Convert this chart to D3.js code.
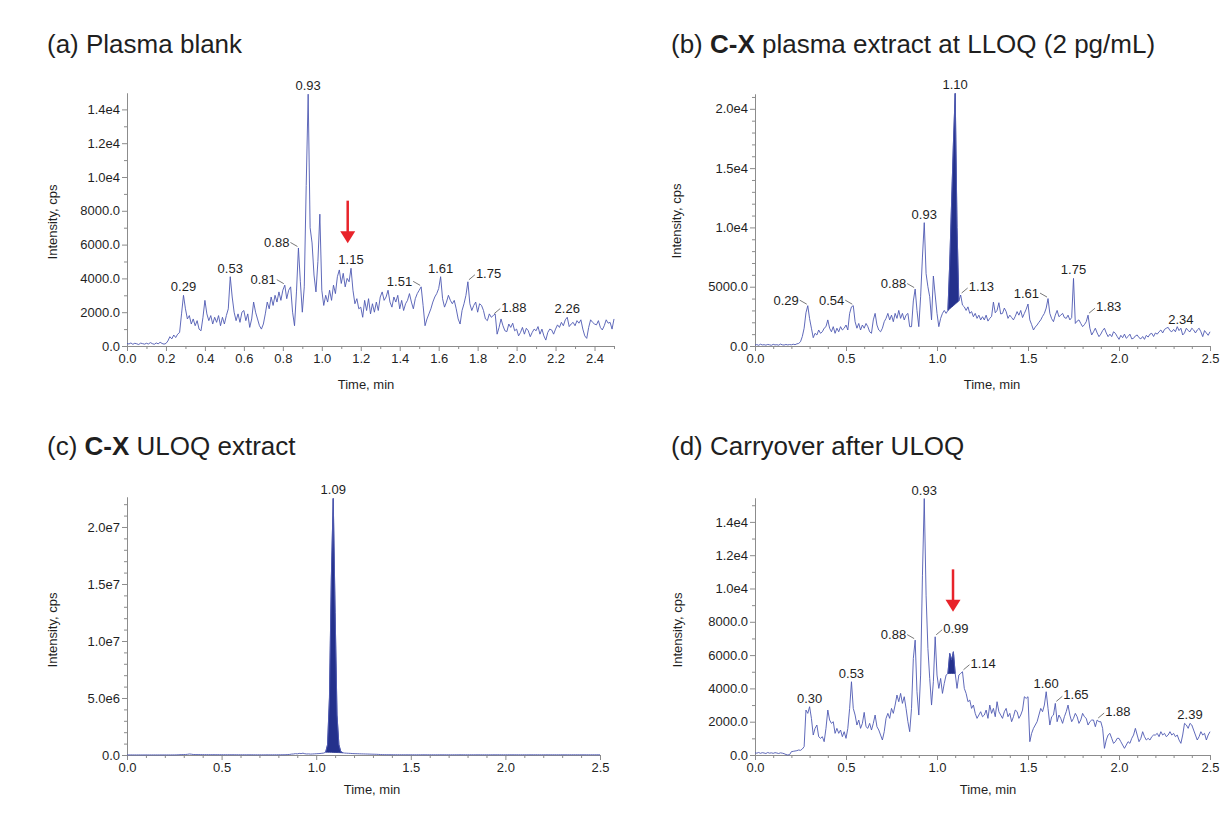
<!DOCTYPE html>
<html>
<head>
<meta charset="utf-8">
<script src="https://cdn.jsdelivr.net/npm/d3@7"></script>
<style>
  body { margin: 0; background: #fff; }
  svg { display: block; font-family: "Liberation Sans", Arial, sans-serif; }
</style>
</head>
<body>
<svg id="chart" width="1221" height="840"></svg>
<script>
// sampling step of every trace, in minutes
const STEP = 0.01;

// (a) plasma blank, cps, one value per 0.01 min from 0.00 to 2.50
const blankIntensity = [
  150, 120, 180, 100, 160, 130, 90, 170, 140, 110,
  160, 120, 200, 140, 100, 180, 130, 220, 150, 110,
  150, 300, 550, 420, 650, 500, 700, 800, 1900, 3000,
  2200, 1600, 1800, 1300, 1600, 1200, 1500, 1000, 900, 1700,
  2700, 1900, 1500, 1800, 1300, 1700, 1400, 1800, 1200, 1700,
  1300, 1800, 2200, 4100, 2900, 2000, 1500, 1900, 1400, 2000,
  2100, 1500, 1900, 1100, 1600, 2600, 2000, 1600, 1200, 1000,
  1300, 1900, 2600, 2200, 2900, 2400, 3000, 2600, 3200, 2700,
  3300, 3600, 2800, 3300, 3500, 2000, 1200, 3200, 5800, 3800,
  2000, 3500, 9500, 14900, 7000, 6100, 4200, 3200, 5000, 7800,
  3300, 2400, 3000, 2600, 3300, 2700, 3600, 3100, 4100, 4500,
  3700, 4300, 3500, 4000, 3800, 4600, 3300, 2500, 2800, 2200,
  2300, 1700, 2700, 2100, 2800, 1900, 2500, 2000, 2600, 2100,
  2900, 3200, 2700, 2900, 3300, 2600, 2300, 2900, 2600, 3000,
  2200, 2700, 2100, 2500, 2700, 3100, 2600, 2200, 2800, 3100,
  3300, 3500, 2400, 1200, 1600, 1900, 2200, 2600, 2900, 3100,
  3400, 4100, 2800, 2300, 2600, 3000, 2700, 2500, 2700, 2200,
  1600, 1300, 2100, 2500, 3000, 3800, 2500, 2100, 2400, 2600,
  2000, 2500, 2400, 2100, 1600, 1500, 1900, 1700, 1800, 1900,
  700, 1100, 1600, 1200, 900, 850, 1300, 1100, 1350, 900,
  1000, 600, 800, 1100, 700, 1050, 900, 550, 800, 1000,
  900, 1150, 700, 1000, 600, 350, 800, 1000, 950, 700,
  1000, 1250, 1100, 1400, 1200, 1550, 1700, 1150, 1300, 1400,
  1200, 1500, 1350, 1550, 1000, 600, 450, 1100, 1550, 1400,
  1300, 1250, 1500, 1100, 950, 1200, 1550, 1350, 1400, 1000,
  1600
];

// (b) C-X plasma extract at LLOQ
const lloqIntensity = [
  80, 120, 60, 150, 90, 110, 70, 130, 100, 60,
  140, 90, 110, 70, 160, 100, 80, 130, 90, 120,
  100, 150, 110, 180, 220, 360, 800, 1500, 2800, 3400,
  2300, 1500, 700, 1070, 930, 1350, 1070, 1200, 1500, 1630,
  2200, 1500, 1200, 1630, 1070, 1500, 1200, 1630, 1350, 1500,
  1770, 1350, 2750, 3300, 3400, 2050, 1500, 1900, 1350, 1770,
  1500, 1900, 1630, 1200, 1070, 2200, 2750, 1770, 1350, 1200,
  1500, 2050, 2330, 2750, 2200, 2600, 2050, 2750, 2330, 3000,
  2330, 2750, 2200, 2600, 2750, 1630, 1630, 3800, 4800, 3000,
  1630, 4150, 7500, 10400, 6100, 5000, 4150, 2200, 5900, 4300,
  2750, 1630, 2330, 2750, 3000, 2750, 3000, 7000, 12000, 17000,
  21300, 10000, 3800, 4300, 3450, 3300, 3000, 3300, 2750, 2900,
  2470, 2750, 2330, 2600, 2200, 2470, 2200, 2600, 2100, 2330,
  2500, 3700, 2800, 3000, 3650, 2700, 2750, 3200, 2900, 2330,
  2600, 2400, 2200, 2500, 2900, 2600, 3000, 2400, 2750, 3100,
  3540, 2200, 1800, 1350, 1600, 1770, 2000, 2200, 2500, 2750,
  3200, 4000, 2750, 2300, 2050, 2600, 3000, 2470, 2600, 2750,
  2400, 2330, 2600, 2200, 2400, 5700, 1900, 2100, 2200, 1900,
  1630, 1800, 2050, 2600, 1500, 930, 1200, 1500, 1100, 790,
  1000, 1300, 1500, 1100, 790, 1000, 790, 1200, 1070, 800,
  560, 900, 700, 1000, 650, 800, 1000, 600, 650, 850,
  930, 700, 600, 800, 560, 900, 750, 1000, 1070, 800,
  1100, 1000, 1200, 1350, 1100, 1400, 1500, 1570, 1300, 1200,
  1400, 1200, 1630, 1300, 1500, 930, 1100, 1500, 1300, 1200,
  1500, 1350, 1100, 1350, 1500, 1200, 790, 1300, 1100, 900,
  1200
];

// (c) C-X ULOQ extract
const uloqIntensity = [
  8000, 6000, 9000, 7000, 8000, 6000, 9000, 7000, 8000, 6000,
  9000, 7000, 8000, 6000, 9000, 7000, 8000, 6000, 9000, 7000,
  9000, 7000, 10000, 8000, 12000, 9000, 14000, 20000, 30000, 35000,
  40000, 45000, 60000, 90000, 70000, 45000, 40000, 35000, 38000, 33000,
  35000, 30000, 33000, 28000, 31000, 27000, 30000, 26000, 29000, 25000,
  28000, 24000, 27000, 23000, 26000, 22000, 25000, 21000, 24000, 20000,
  23000, 20000, 22000, 19000, 21000, 18000, 20000, 17000, 19000, 16000,
  18000, 15000, 17000, 15000, 18000, 16000, 19000, 17000, 20000, 18000,
  22000, 20000, 25000, 23000, 28000, 40000, 50000, 80000, 90000, 120000,
  100000, 140000, 120000, 160000, 110000, 90000, 100000, 80000, 90000, 100000,
  110000, 120000, 130000, 150000, 170000, 250000, 900000, 5000000, 15500000, 22500000,
  12500000, 3500000, 900000, 300000, 200000, 170000, 160000, 150000, 140000, 130000,
  120000, 115000, 110000, 105000, 100000, 95000, 90000, 85000, 80000, 75000,
  70000, 65000, 60000, 50000, 40000, 35000, 30000, 28000, 26000, 25000,
  24000, 22000, 23000, 21000, 22000, 20000, 21000, 19000, 20000, 18000,
  21000, 19000, 20000, 18000, 21000, 19000, 22000, 20000, 21000, 19000,
  20000, 18000, 21000, 19000, 20000, 18000, 21000, 19000, 20000, 18000,
  21000, 19000, 20000, 18000, 21000, 19000, 22000, 20000, 21000, 19000,
  20000, 18000, 21000, 19000, 20000, 18000, 21000, 19000, 20000, 18000,
  21000, 19000, 20000, 18000, 21000, 19000, 22000, 20000, 21000, 19000,
  20000, 18000, 21000, 19000, 20000, 18000, 21000, 19000, 20000, 18000,
  21000, 19000, 20000, 18000, 21000, 19000, 22000, 20000, 21000, 19000,
  20000, 18000, 21000, 19000, 20000, 18000, 21000, 19000, 20000, 18000,
  21000, 19000, 20000, 18000, 21000, 19000, 22000, 20000, 21000, 19000,
  20000, 18000, 21000, 19000, 20000, 18000, 21000, 19000, 20000, 18000,
  20000
];

// (d) carryover blank injected after ULOQ
const carryIntensity = [
  130, 110, 150, 100, 140, 120, 90, 150, 110, 130,
  100, 140, 120, 90, 130, 110, 80, 30, 0, 20,
  200, 220, 240, 260, 300, 280, 360, 500, 2700, 2500,
  2900, 2200, 1200, 1600, 1800, 1100, 1000, 1100, 800, 1600,
  2700, 2100, 1900, 2000, 1300, 1600, 1300, 1500, 1100, 1400,
  1000, 1600, 2800, 4400, 2800, 2400, 1800, 2100, 1600, 1900,
  2560, 1700, 1600, 1900, 1500, 1900, 2400, 1700, 1500, 1200,
  900, 1400, 2200, 2500, 2200, 2800, 2500, 3000, 3600, 3200,
  3700, 3100, 3500, 2800, 2000, 1400, 2800, 5800, 6900, 3800,
  2400, 4800, 10800, 15400, 9600, 6400, 4600, 3000, 4400, 7100,
  4800, 4000, 4600, 3700, 4300, 4800, 4900, 6100, 5700, 6200,
  4900, 4000, 4800, 4900, 5000, 4000, 3700, 3200, 3300, 2800,
  3000, 2500, 2200, 2400, 2600, 2300, 2400, 2700, 2200, 3000,
  2500, 2800, 2300, 3200, 2600, 2400, 2200, 2600, 2800, 2300,
  2500, 2000, 2300, 2700, 2600, 2200, 2400, 2700, 3500, 3400,
  3500, 800, 1300, 1600, 1800, 2000, 2400, 2800, 2600, 3000,
  3800, 2800, 1800, 2300, 2400, 3100, 2000, 2400, 2200, 1900,
  2300, 2600, 3000, 2400, 2000, 2200, 2500, 2300, 1900, 2100,
  2500, 2300, 2200, 1800, 2000, 2100, 2100, 1700, 2100, 2000,
  2000, 1600, 400, 900, 1200, 1300, 1000, 700, 800, 1000,
  1000, 800, 600, 400, 600, 800, 700, 1000, 1200, 1600,
  1200, 800, 1000, 1400, 1100, 900, 1000, 900, 1100, 1200,
  1200, 1300, 1100, 1400, 1200, 1300, 1100, 1200, 1400, 1200,
  1300, 1100, 1200, 900, 700, 1200, 1900, 1800, 1600, 1900,
  1800, 1500, 1200, 900, 1100, 1400, 1200, 1300, 900, 1200,
  1400
];

// labelled peaks: retention time text and where the label sits
const blankPeaks = [["0.29", "top"], ["0.53", "top"], ["0.81", "left"], ["0.88", "left"],
  ["0.93", "top"], ["1.15", "top"], ["1.51", "left"], ["1.61", "top"], ["1.75", "right"],
  ["1.88", "right"], ["2.26", "top"]];
const lloqPeaks = [["0.29", "left"], ["0.54", "left"], ["0.88", "left"], ["0.93", "top"],
  ["1.10", "top"], ["1.13", "right"], ["1.61", "left"], ["1.75", "top"], ["1.83", "right"],
  ["2.34", "top"]];
const uloqPeaks = [["1.09", "top"]];
const carryPeaks = [["0.30", "top"], ["0.53", "top"], ["0.88", "left"], ["0.93", "top"],
  ["0.99", "right"], ["1.14", "right"], ["1.60", "top"], ["1.65", "right"], ["1.88", "right"],
  ["2.39", "top"]];

// integrated (shaded) windows, minutes
const lloqWindow = [1.06, 1.12];
const uloqWindow = [1.05, 1.14];
const carryWindow = [1.06, 1.10];

// red arrows: time, tail and tip intensity
const blankArrow = [1.133, 8600, 6080];
const carryArrow = [1.088, 11150, 8600];

// tick values
const xTicksFine = [0, 0.2, 0.4, 0.6, 0.8, 1.0, 1.2, 1.4, 1.6, 1.8, 2.0, 2.2, 2.4];
const xTicksHalf = [0, 0.5, 1.0, 1.5, 2.0, 2.5];
const yTicksBlank = [0, 2000, 4000, 6000, 8000, 10000, 12000, 14000];
const yTicksLloq = [0, 5000, 10000, 15000, 20000];
const yTicksUloq = [0, 5e6, 1e7, 1.5e7, 2e7];

const LINE = "#4e59b2";
const FILL = "#24318c";
const AXIS = "#8c8c8c";
const TEXT = "#1f1f1f";

const svg = d3.select("#chart");

const panels = [
  {
    title: [["(a) Plasma blank", false]], titleX: 47, titleY: 53,
    values: blankIntensity, peaks: blankPeaks, window: null, arrow: blankArrow,
    left: 127, right: 614, top: 93, bottom: 346, yMax: 14970,
    xTicks: xTicksFine, yTicks: yTicksBlank, yMinor: 1000,
    xLabel: [366, 389], yLabel: [57, 222],
  },
  {
    title: [["(b) ", false], ["C-X", true], [" plasma extract at LLOQ (2 pg/mL)", false]],
    titleX: 671, titleY: 53,
    values: lloqIntensity, peaks: lloqPeaks, window: lloqWindow, arrow: null,
    left: 755, right: 1210, top: 94, bottom: 346, yMax: 21250,
    xTicks: xTicksHalf, yTicks: yTicksLloq, yMinor: 1000,
    xLabel: [992, 389], yLabel: [681, 221],
  },
  {
    title: [["(c) ", false], ["C-X", true], [" ULOQ extract", false]],
    titleX: 47, titleY: 455,
    values: uloqIntensity, peaks: uloqPeaks, window: uloqWindow, arrow: null,
    left: 127, right: 600, top: 497, bottom: 755, yMax: 2.263e7,
    xTicks: xTicksHalf, yTicks: yTicksUloq, yMinor: 1e6,
    xLabel: [372, 794], yLabel: [57, 630],
  },
  {
    title: [["(d) Carryover after ULOQ", false]], titleX: 671, titleY: 455,
    values: carryIntensity, peaks: carryPeaks, window: carryWindow, arrow: carryArrow,
    left: 755, right: 1210, top: 498, bottom: 755, yMax: 15435,
    xTicks: xTicksHalf, yTicks: yTicksBlank, yMinor: 1000,
    xLabel: [988, 794], yLabel: [682, 630],
  },
];

function intensityFormat(v) {
  if (v < 10000) return v.toFixed(1);
  const e = Math.floor(Math.log10(v) + 1e-9);
  return (v / 10 ** e).toFixed(1) + "e" + e;
}

function styleAxis(g) {
  g.selectAll(".domain").attr("stroke", AXIS).attr("stroke-width", 1);
  g.selectAll(".tick line").attr("stroke", AXIS);
  g.selectAll(".tick text")
    .attr("fill", TEXT)
    .style("font-size", "13px")
    .style("font-family", '"Liberation Sans", Arial, sans-serif');
}

function drawPanel(p) {
  const x = d3.scaleLinear().domain([0, 2.5]).range([p.left, p.right]);
  const y = d3.scaleLinear().domain([0, p.yMax]).range([p.bottom, p.top]);
  const g = svg.append("g");

  // title
  const title = g.append("text")
    .attr("x", p.titleX)
    .attr("y", p.titleY)
    .attr("fill", TEXT)
    .style("font-size", "26px");
  p.title.forEach(([text, bold]) => {
    title.append("tspan").attr("font-weight", bold ? "bold" : "normal").text(text);
  });

  // axes
  const xMinor = d3.range(0, 2.5001, 0.1).filter((t) => !p.xTicks.some((m) => Math.abs(m - t) < 1e-6));
  const yMinor = d3.range(0, p.yMax, p.yMinor).filter((v) => !p.yTicks.includes(v));

  g.append("g")
    .attr("transform", `translate(0,${p.bottom})`)
    .call(d3.axisBottom(x).tickValues(xMinor).tickSize(3).tickSizeOuter(0).tickFormat(""))
    .call(styleAxis);
  g.append("g")
    .attr("transform", `translate(0,${p.bottom})`)
    .call(d3.axisBottom(x).tickValues(p.xTicks).tickSize(5).tickSizeOuter(0).tickPadding(3)
      .tickFormat(d3.format(".1f")))
    .call(styleAxis);
  g.append("g")
    .attr("transform", `translate(${p.left},0)`)
    .call(d3.axisLeft(y).tickValues(yMinor).tickSize(3).tickSizeOuter(0).tickFormat(""))
    .call(styleAxis);
  g.append("g")
    .attr("transform", `translate(${p.left},0)`)
    .call(d3.axisLeft(y).tickValues(p.yTicks).tickSize(5).tickSizeOuter(0).tickPadding(2)
      .tickFormat(intensityFormat))
    .call(styleAxis);

  g.append("text")
    .attr("x", p.xLabel[0])
    .attr("y", p.xLabel[1])
    .attr("text-anchor", "middle")
    .attr("fill", TEXT)
    .style("font-size", "13px")
    .text("Time, min");
  g.append("text")
    .attr("transform", `translate(${p.yLabel[0]},${p.yLabel[1]}) rotate(-90)`)
    .attr("text-anchor", "middle")
    .attr("fill", TEXT)
    .style("font-size", "13px")
    .text("Intensity, cps");

  const points = p.values.map((v, i) => ({ t: i * STEP, v }));

  // shaded integration area between the drop baseline and the trace
  if (p.window) {
    const i0 = Math.round(p.window[0] / STEP);
    const i1 = Math.round(p.window[1] / STEP);
    const slice = points.slice(i0, i1 + 1);
    const base = d3.scaleLinear().domain([slice[0].t, slice[slice.length - 1].t])
      .range([slice[0].v, slice[slice.length - 1].v]);
    g.append("path")
      .datum(slice)
      .attr("fill", FILL)
      .attr("stroke", FILL)
      .attr("stroke-width", 0.8)
      .attr("d", d3.area().x((d) => x(d.t)).y0((d) => y(base(d.t))).y1((d) => y(d.v)));
  }

  g.append("path")
    .datum(points)
    .attr("fill", "none")
    .attr("stroke", LINE)
    .attr("stroke-width", 0.9)
    .attr("stroke-linejoin", "round")
    .attr("d", d3.line().x((d) => x(d.t)).y((d) => y(d.v)));

  // peak labels
  p.peaks.forEach(([text, side]) => {
    const t = parseFloat(text);
    const v = p.values[Math.round(t / STEP)];
    const px = x(t);
    const py = y(v);
    const label = g.append("text")
      .attr("fill", TEXT)
      .style("font-size", "13px")
      .text(text);
    if (side === "top") {
      label.attr("x", px).attr("y", py - 4).attr("text-anchor", "middle");
    } else if (side === "left") {
      label.attr("x", px - 9).attr("y", py - 1).attr("text-anchor", "end");
      g.append("line")
        .attr("x1", px - 8).attr("y1", py - 5.5).attr("x2", px - 1).attr("y2", py - 1.5)
        .attr("stroke", "#555").attr("stroke-width", 0.8);
    } else {
      label.attr("x", px + 8).attr("y", py - 4).attr("text-anchor", "start");
      g.append("line")
        .attr("x1", px + 1).attr("y1", py - 2).attr("x2", px + 7).attr("y2", py - 7)
        .attr("stroke", "#555").attr("stroke-width", 0.8);
    }
  });

  // red arrow pointing at the analyte retention time
  if (p.arrow) {
    const [t, from, to] = p.arrow;
    const ax = x(t);
    const tip = y(to);
    g.append("line")
      .attr("x1", ax).attr("x2", ax)
      .attr("y1", y(from)).attr("y2", tip - 10)
      .attr("stroke", "#e8232a").attr("stroke-width", 2.5);
    g.append("path")
      .attr("d", `M${ax - 7.5},${tip - 12}L${ax + 7.5},${tip - 12}L${ax},${tip}Z`)
      .attr("fill", "#e8232a");
  }
}

panels.forEach(drawPanel);
</script>
</body>
</html>
